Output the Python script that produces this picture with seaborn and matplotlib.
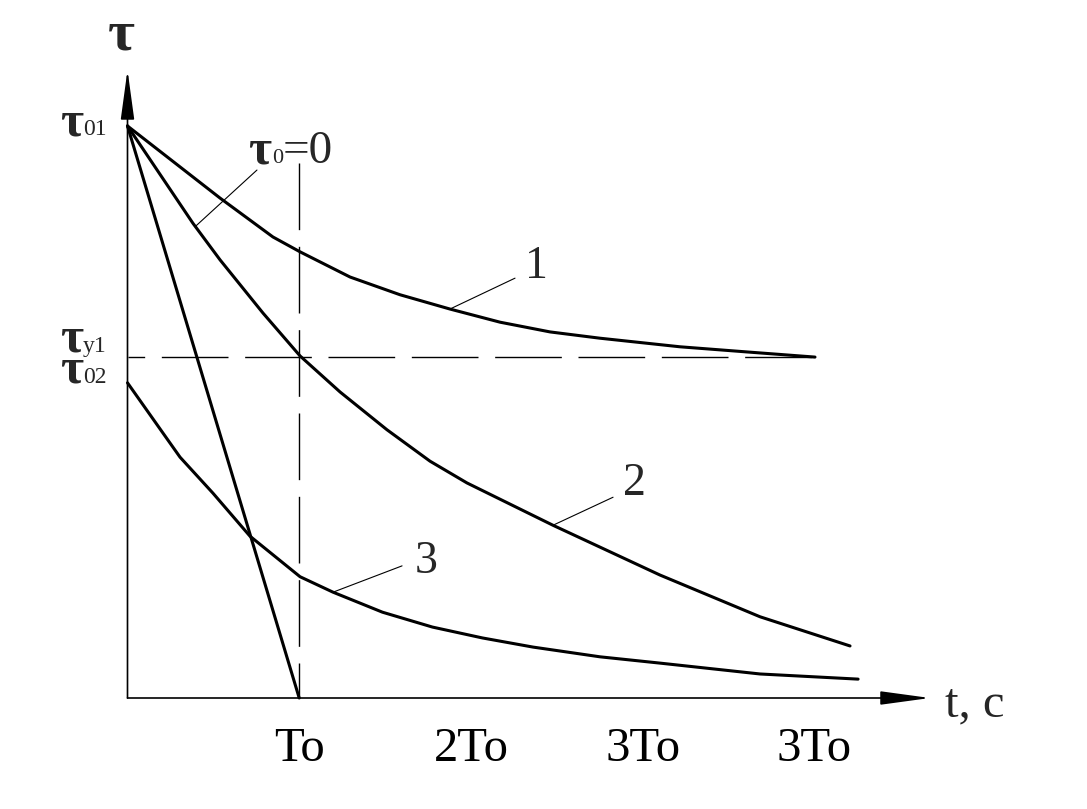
import numpy as np
import pandas as pd
import matplotlib
matplotlib.use("Agg")
import matplotlib.pyplot as plt
import seaborn as sns

# time in units of To, tau normalised by tau01
t_line = [0.0, 1.0]
tau_line = [1.0, 0.0]

t_c1 = [0.0, 0.539, 0.847, 1.005, 1.296, 1.587, 1.878, 2.170, 2.461, 2.752, 3.218, 3.608, 4.004]
tau_c1 = [1.0, 0.874, 0.806, 0.780, 0.736, 0.705, 0.680, 0.657, 0.640, 0.629, 0.614, 0.605, 0.596]

t_c2 = [0.0, 0.381, 0.539, 0.789, 1.005, 1.238, 1.511, 1.762, 1.977, 2.478, 3.101, 3.684, 4.208]
tau_c2 = [1.0, 0.830, 0.766, 0.673, 0.598, 0.535, 0.469, 0.414, 0.376, 0.302, 0.215, 0.142, 0.091]

t_c3 = [0.0, 0.207, 0.306, 0.498, 0.713, 1.005, 1.197, 1.485, 1.776, 2.067, 2.362, 2.752,
        3.101, 3.684, 4.255]
tau_c3 = [0.551, 0.463, 0.421, 0.358, 0.283, 0.212, 0.185, 0.150, 0.124, 0.105, 0.089, 0.072,
          0.061, 0.042, 0.033]

xtick_pos = [1, 2, 3, 4]
xtick_labels = ["To", "2To", "3To", "3To"]

t_ref = 1.0       # To
tau_y1 = 0.596    # steady level of curve 1

frames = []
for name, t, tau in [("0", t_line, tau_line), ("1", t_c1, tau_c1),
                     ("2", t_c2, tau_c2), ("3", t_c3, tau_c3)]:
    frames.append(pd.DataFrame({"t": t, "tau": tau, "curve": name}))
df = pd.concat(frames, ignore_index=True)

sns.set_style("white")
plt.rcParams["font.family"] = ["Liberation Serif", "DejaVu Serif"]

fig = plt.figure(figsize=(10.87, 8.09), dpi=100)
ax = fig.add_axes([0, 0, 1, 1])
ax.set_xlim(-127.5 / 171.7, (1087 - 127.5) / 171.7)
ax.set_ylim(-111 / 572, 698 / 572)

sns.lineplot(data=df, x="t", y="tau", units="curve", estimator=None, sort=False,
             color="black", lw=2.2, ax=ax, legend=False)

# dashed guide lines
ax.plot([t_ref, t_ref], [0.935, 0.0], color="black", lw=1,
        linestyle=(0, (48, 12)), zorder=1)
ax.plot([0.0, 4.0], [tau_y1, tau_y1], color="black", lw=1,
        linestyle=(36, (48, 12)), zorder=1)

# axes with arrows
for side in ["left", "bottom", "top", "right"]:
    ax.spines[side].set_visible(False)
ax.spines["bottom"].set_position(("data", 0))
ax.spines["left"].set_position(("data", 0))
arrow = dict(arrowstyle="-|>,head_length=2.2,head_width=0.3", mutation_scale=14,
             lw=1.2, color="black", shrinkA=0, shrinkB=0)
ax.annotate("", xy=(4.674, 0), xytext=(0, 0), arrowprops=arrow)
ax.annotate("", xy=(0, 1.098), xytext=(0, 0), arrowprops=arrow)

ax.set_xticks(xtick_pos, labels=xtick_labels)
ax.set_yticks([])
ax.tick_params(axis="x", direction="out", length=10, width=1, pad=11,
               labelsize=35, colors="black")
ax.set_xlabel("")
ax.set_ylabel("")

ax.text(4.761, -0.033, "t, c", fontsize=35, ha="left", va="baseline")
ax.text(-0.035, 1.133, "τ", fontsize=42, fontweight="bold", ha="center", va="baseline")

# tau labels on the vertical axis
for base, sub in [(0.984, "01"), (0.605, "y1"), (0.551, "02")]:
    ax.text(-0.259, base, "τ", fontsize=36, fontweight="bold", ha="right", va="baseline")
    ax.text(-0.259, base, sub, fontsize=17, ha="left", va="baseline")

# curve captions with leader lines
def leader(t_curve, tau_curve, t_at, end):
    pt = (t_at, np.interp(t_at, t_curve, tau_curve))
    ax.annotate("", xy=pt, xytext=end,
                arrowprops=dict(arrowstyle="-", lw=0.8, color="black",
                                shrinkA=0, shrinkB=0))

leader(t_c2, tau_c2, 0.395, (0.754, 0.923))
leader(t_c1, tau_c1, 1.878, (2.257, 0.734))
leader(t_c2, tau_c2, 2.478, (2.828, 0.351))
leader(t_c3, tau_c3, 1.197, (1.599, 0.231))

ax.text(0.836, 0.935, "τ", fontsize=36, fontweight="bold", ha="right", va="baseline")
ax.text(0.842, 0.935, "0", fontsize=16, ha="left", va="baseline")
ax.text(0.906, 0.935, "=0", fontsize=34, ha="left", va="baseline")
ax.text(2.379, 0.734, "1", fontsize=33, ha="center", va="baseline")
ax.text(2.950, 0.355, "2", fontsize=33, ha="center", va="baseline")
ax.text(1.738, 0.2185, "3", fontsize=33, ha="center", va="baseline")

fig.savefig("out.png", dpi=100, facecolor="white")
